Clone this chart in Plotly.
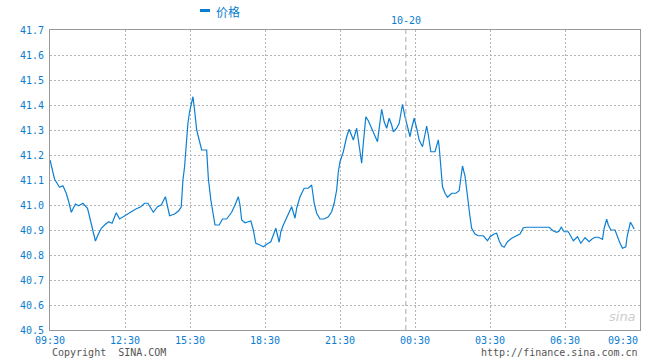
import plotly.graph_objects as go

# minutes since 09:30 open (trading-time axis)
minutes = [0, 5, 11, 18, 23, 31, 39, 45, 51, 61, 69, 79, 90, 95, 103, 109, 115, 123, 133, 141,
           149, 159, 167, 178, 191, 205, 218, 227, 235, 248, 258, 267, 277, 282, 287, 299, 309, 315, 319, 323,
           327, 331, 335, 339, 343, 347, 352, 358, 364, 376, 380, 386, 392, 396, 406, 414, 424, 436, 444, 452,
           456, 460, 468, 482, 488, 494, 504, 512, 520, 530, 536, 542, 550, 554, 560, 568, 580, 588, 592, 600,
           610, 620, 628, 634, 640, 648, 658, 668, 676, 682, 688, 692, 696, 704, 712, 718, 728, 736, 742, 746,
           748, 752, 758, 764, 772, 780, 786, 790, 796, 802, 808, 814, 820, 824, 832, 838, 842, 846, 852, 858,
           864, 868, 874, 880, 886, 894, 900, 904, 908, 914, 924, 932, 934, 938, 942, 948, 954, 964, 974, 982,
           986, 990, 996, 1000, 1004, 1008, 1012, 1020, 1028, 1040, 1050, 1056, 1066, 1072, 1078, 1084, 1090, 1098, 1108, 1118,
           1128, 1136, 1144, 1198, 1208, 1216, 1222, 1227, 1234, 1244, 1256, 1266, 1274, 1284, 1294, 1300, 1308, 1316, 1326, 1330,
           1336, 1340, 1346, 1356, 1362, 1368, 1374, 1382, 1385, 1390, 1393, 1397, 1402]

price = [41.18, 41.14, 41.103, 41.084, 41.071, 41.077, 41.047, 41.013, 40.971, 41.004, 40.997, 41.007, 40.987, 40.953, 40.9, 40.856, 40.88, 40.907, 40.923, 40.933,
         40.927, 40.969, 40.944, 40.956, 40.969, 40.983, 40.993, 41.007, 41.007, 40.971, 40.993, 41.0, 41.033, 41.0, 40.957, 40.964, 40.977, 40.993, 41.1, 41.153,
         41.24, 41.327, 41.373, 41.4, 41.433, 41.38, 41.3, 41.26, 41.22, 41.22, 41.107, 41.02, 40.96, 40.92, 40.92, 40.944, 40.944, 40.971, 41.0, 41.033,
         41.0, 40.94, 40.929, 40.936, 40.9, 40.847, 40.84, 40.833, 40.843, 40.853, 40.88, 40.907, 40.851, 40.893, 40.92, 40.947, 40.993, 40.947, 40.987, 41.033,
         41.067, 41.067, 41.08, 41.007, 40.967, 40.944, 40.944, 40.953, 40.973, 41.007, 41.06, 41.133, 41.173, 41.213, 41.273, 41.303, 41.26, 41.307, 41.233, 41.187,
         41.167, 41.247, 41.353, 41.337, 41.307, 41.273, 41.253, 41.307, 41.383, 41.333, 41.307, 41.347, 41.32, 41.293, 41.307, 41.327, 41.367, 41.403, 41.353, 41.307,
         41.273, 41.307, 41.347, 41.307, 41.26, 41.233, 41.28, 41.316, 41.28, 41.213, 41.213, 41.26, 41.233, 41.147, 41.073, 41.047, 41.031, 41.047, 41.047, 41.057,
         41.1, 41.156, 41.116, 41.06, 40.993, 40.953, 40.907, 40.884, 40.877, 40.877, 40.857, 40.873, 40.884, 40.887, 40.857, 40.837, 40.831, 40.853, 40.867, 40.876,
         40.884, 40.909, 40.911, 40.911, 40.896, 40.891, 40.896, 40.911, 40.893, 40.893, 40.857, 40.873, 40.847, 40.869, 40.853, 40.863, 40.871, 40.871, 40.863, 40.907,
         40.943, 40.92, 40.9, 40.9, 40.871, 40.847, 40.827, 40.833, 40.873, 40.92, 40.931, 40.92, 40.904]

tick_minutes = [0, 180, 336, 516, 696, 876, 1056, 1236, 1416]
tick_labels = ["09:30", "12:30", "15:30", "18:30", "21:30", "00:30", "03:30", "06:30", "09:30"]
date_marker_minute = 854
date_marker_label = "10-20"
series_name = "价格"

BLUE = "#0a7dd0"
LINE = "#0b7fd3"
GRID = "#b4b4b4"
MONO = "DejaVu Sans Mono"

fig = go.Figure()
fig.add_trace(go.Scatter(x=minutes, y=price, mode="lines",
                         line=dict(color=LINE, width=1.2), name=series_name,
                         showlegend=False, hoverinfo="skip"))

fig.update_layout(
    width=660, height=360,
    margin=dict(l=50, r=20, t=30, b=30),
    paper_bgcolor="white", plot_bgcolor="white",
    xaxis=dict(range=[0, 1416], tickvals=tick_minutes, showticklabels=False,
               showgrid=True, gridcolor=GRID, griddash="2px,2px", gridwidth=1,
               showline=True, linecolor="#999999", linewidth=1, mirror=True,
               zeroline=False, ticks=""),
    yaxis=dict(range=[40.5, 41.7], dtick=0.1, tick0=40.5, tickformat=".1f",
               showgrid=True, gridcolor=GRID, griddash="2px,2px", gridwidth=1,
               showline=True, linecolor="#999999", linewidth=1, mirror=True,
               zeroline=False, ticks="", ticklabelstandoff=3,
               tickfont=dict(family=MONO, size=10, color=BLUE)),
)

# date separator
fig.add_shape(type="line", xref="x", yref="paper", x0=date_marker_minute, x1=date_marker_minute,
              y0=0, y1=1, line=dict(color="#aaaaaa", width=1, dash="5px,3px"))
fig.add_annotation(x=date_marker_minute, xref="x", y=1, yref="paper", yshift=2,
                   text=date_marker_label, showarrow=False, yanchor="bottom",
                   font=dict(family=MONO, size=10, color=BLUE))

# x tick labels
for i, (m, lab) in enumerate(zip(tick_minutes, tick_labels)):
    fig.add_annotation(x=m, xref="x", y=0, yref="paper", yshift=-3, text=lab,
                       showarrow=False, yanchor="top",
                       xanchor="right" if i == len(tick_labels) - 1 else "center",
                       font=dict(family=MONO, size=10, color=BLUE))

# legend (custom)
fig.add_shape(type="rect", xref="paper", yref="paper",
              x0=(200 - 50) / 590, x1=(210 - 50) / 590,
              y0=(330 - 12) / 300, y1=(330 - 9) / 300,
              fillcolor=BLUE, line=dict(width=0))
fig.add_annotation(x=(214 - 50) / 590, xref="paper", y=(330 - 11) / 300, yref="paper",
                   text=series_name, showarrow=False, xanchor="left", yanchor="middle",
                   font=dict(family="Noto Sans CJK SC", size=12, color=BLUE))

# footer
fig.add_annotation(x=0, xref="paper", y=-22 / 300, yref="paper", text="Copyright  SINA.COM",
                   showarrow=False, xanchor="left", yanchor="middle",
                   font=dict(family=MONO, size=10, color="#555555"))
fig.add_annotation(x=1, xref="paper", y=-22 / 300, yref="paper", text="http://finance.sina.com.cn",
                   showarrow=False, xanchor="right", yanchor="middle",
                   font=dict(family=MONO, size=10, color="#555555"))
fig.add_annotation(x=(622 - 50) / 590, xref="paper", y=14 / 300, yref="paper", text="<i>sina</i>",
                   showarrow=False, xanchor="center", yanchor="middle",
                   font=dict(family="DejaVu Sans", size=13, color="#cccccc"))

fig.write_html("out.html", config={"displayModeBar": False},
               post_script="document.body.style.margin='0';")
